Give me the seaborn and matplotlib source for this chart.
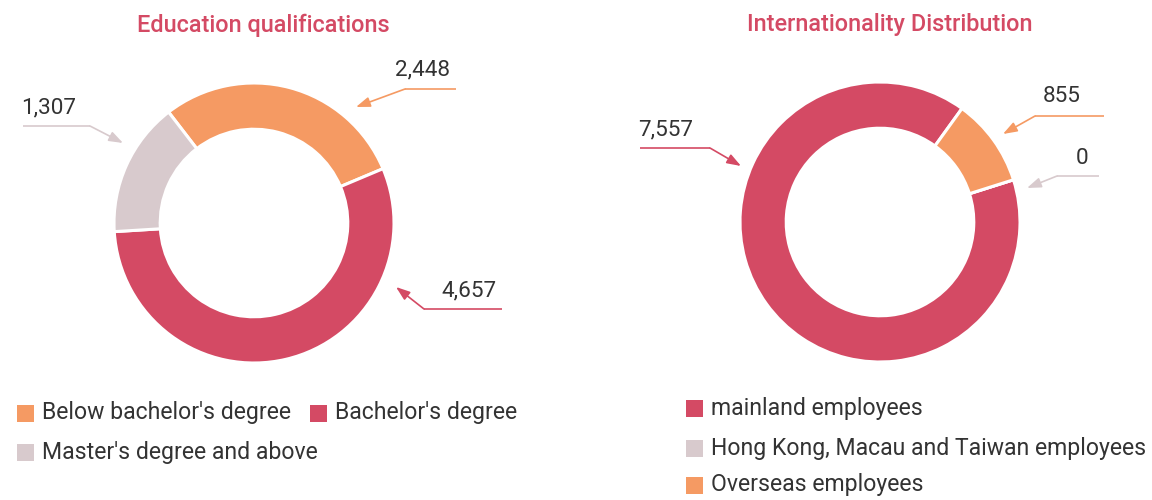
import matplotlib
matplotlib.use("Agg")
import matplotlib.pyplot as plt
import seaborn as sns
from matplotlib.patches import Rectangle

# ---------------- data ----------------
edu_title = "Education qualifications"
edu_labels = ["Below bachelor's degree", "Bachelor's degree", "Master's degree and above"]
edu_values = [2448, 4657, 1307]

nat_title = "Internationality Distribution"
nat_labels = ["mainland employees", "Hong Kong, Macau and Taiwan employees", "Overseas employees"]
nat_values = [7557, 0, 855]

# ---------------- style ----------------
ORANGE = "#F59A63"
RED = "#D44A64"
GREY = "#D8CACD"
TEXT = "#333333"
edu_colors = [ORANGE, RED, GREY]
nat_colors = [RED, GREY, ORANGE]

sns.set_theme(style="white")
plt.rcParams['font.family'] = ['Roboto', 'DejaVu Sans']

W, H = 1152, 500
PT = 0.72  # px -> pt at dpi 100
fig = plt.figure(figsize=(W / 100, H / 100), dpi=100)
fig.patch.set_facecolor("white")

overlay = fig.add_axes([0, 0, 1, 1])
overlay.set_xlim(0, W)
overlay.set_ylim(H, 0)
overlay.axis('off')


def donut(cx, cy, R, values, colors, startangle, counterclock):
    ax = fig.add_axes([(cx - R) / W, 1 - (cy + R) / H, 2 * R / W, 2 * R / H])
    wedges, _ = ax.pie(values, colors=colors, radius=1, startangle=startangle,
                       counterclock=counterclock,
                       wedgeprops=dict(width=0.33, edgecolor='white', linewidth=2.2))
    for w in wedges:
        w.set_clip_on(False)
    ax.set_xlim(-1, 1)
    ax.set_ylim(-1, 1)
    ax.set_aspect('equal')
    ax.axis('off')
    return ax


donut(254, 223, 140, edu_values, edu_colors, 127.6, False)
donut(880, 222, 140, nat_values, nat_colors, 54.15, True)

# titles
overlay.text(263, 25, edu_title, color=RED, fontsize=23.5 * PT, fontweight='medium',
             ha='center', va='center')
overlay.text(890, 25, nat_title, color=RED, fontsize=23.5 * PT, fontweight='medium',
             ha='center', va='center')


def callout(value, color, text_xy, start, elbow, tip):
    overlay.text(text_xy[0], text_xy[1], f"{value:,}", color=TEXT, fontsize=22.5 * PT,
                 ha='center', va='center')
    overlay.plot([start[0], elbow[0]], [start[1], elbow[1]], color=color, lw=1.2,
                 solid_capstyle='butt')
    overlay.annotate('', xy=tip, xytext=elbow,
                     arrowprops=dict(arrowstyle='-|>,head_length=0.7,head_width=0.25',
                                     color=color, lw=1.2, shrinkA=0, shrinkB=0))


# education callouts
callout(edu_values[0], edu_colors[0], (422, 70), (456, 89), (405, 89), (356, 107))
callout(edu_values[1], edu_colors[1], (469, 291), (502, 309), (424, 309), (396, 287))
callout(edu_values[2], edu_colors[2], (49, 108), (23, 126), (90, 126), (123, 143))

# nationality callouts
callout(nat_values[0], nat_colors[0], (666, 130), (640, 148), (710, 148), (741, 166))
callout(nat_values[2], nat_colors[2], (1062, 97), (1104, 116), (1035, 116), (1003, 134))
callout(nat_values[1], nat_colors[1], (1082, 158), (1099, 176), (1057, 176), (1027, 188))


def legend_item(x, y, label, color):
    overlay.add_patch(Rectangle((x, y - 8.5), 17, 17, color=color, lw=0))
    overlay.text(x + 25, y, label, color=TEXT, fontsize=23 * PT, ha='left', va='center')


legend_item(17, 413, edu_labels[0], edu_colors[0])
legend_item(310, 413, edu_labels[1], edu_colors[1])
legend_item(17, 452, edu_labels[2], edu_colors[2])

legend_item(686, 408, nat_labels[0], nat_colors[0])
legend_item(686, 448, nat_labels[1], nat_colors[1])
legend_item(686, 485, nat_labels[2], nat_colors[2])

fig.savefig("out.png", dpi=100, facecolor="white")
